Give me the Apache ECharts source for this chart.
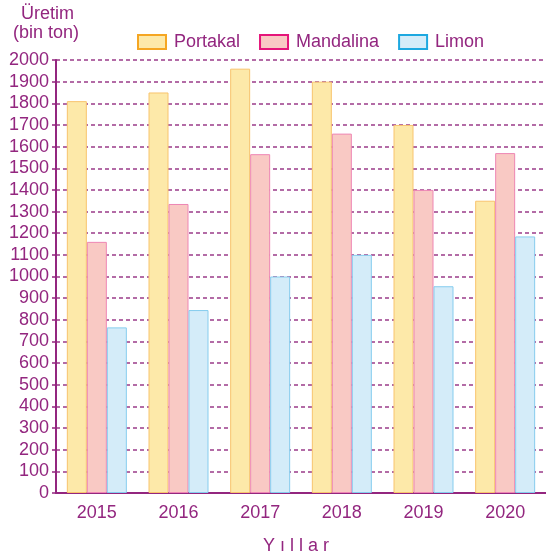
<!DOCTYPE html>
<html lang="tr">
<head>
    <meta charset="UTF-8">
    <title>Üretim</title>
    <script src="https://cdn.jsdelivr.net/npm/echarts@6/dist/echarts.min.js"></script>
    <style>
        html, body { margin: 0; padding: 0; background: #fff; }
        #main { width: 546px; height: 551px; }
    </style>
</head>
<body>
<div id="main"></div>
<script>
    // veriler (bin ton)
    var years = ['2015', '2016', '2017', '2018', '2019', '2020'];
    var portakal = [1810, 1850, 1960, 1900, 1700, 1350];
    var mandalina = [1160, 1335, 1565, 1660, 1400, 1570];
    var limon = [765, 845, 1000, 1100, 955, 1185];

    var purple = '#93267F';
    var font = 'Liberation Sans, Arial, sans-serif';

    var myChart = echarts.init(document.getElementById('main'));

    function bar(name, data, fill, edge) {
        return {
            name: name,
            type: 'bar',
            data: data,
            barWidth: 20,
            barGap: 0,
            itemStyle: { color: fill, borderColor: edge, borderWidth: 1 }
        };
    }

    var option = {
        animation: false,
        textStyle: { fontFamily: font },
        title: [
            { text: 'Üretim', left: 16, top: 0,
              textStyle: { fontSize: 18, fontWeight: 'normal', color: purple, fontFamily: font } },
            { text: '(bin ton)', left: 8, top: 19,
              textStyle: { fontSize: 18, fontWeight: 'normal', color: purple, fontFamily: font } },
            { text: 'Y ı l l a r', left: 258, top: 532,
              textStyle: { fontSize: 18, fontWeight: 'normal', color: purple, fontFamily: font } }
        ],
        legend: {
            left: 137,
            top: 33,
            padding: 0,
            icon: 'rect',
            itemWidth: 28,
            itemHeight: 14,
            itemGap: 19,
            textStyle: { fontSize: 18, color: purple, padding: [0, 0, 0, 3], fontFamily: font },
            data: [
                { name: 'Portakal', itemStyle: { borderColor: '#F5A623' } },
                { name: 'Mandalina', itemStyle: { borderColor: '#E5157A' } },
                { name: 'Limon', itemStyle: { borderColor: '#1DA8E0' } }
            ]
        },
        grid: { left: 56, top: 60, width: 498, bottom: 58 },
        xAxis: {
            type: 'category',
            data: years,
            axisLine: { lineStyle: { color: purple, width: 2 } },
            axisTick: { show: false },
            axisLabel: { fontSize: 18, color: purple, margin: 11, fontFamily: font }
        },
        yAxis: {
            type: 'value',
            min: 0,
            max: 2000,
            interval: 100,
            axisLine: { show: true, lineStyle: { color: purple, width: 2 } },
            axisTick: { show: true, length: 4, lineStyle: { color: purple, width: 1.5 } },
            axisLabel: {
                fontSize: 18, color: purple, margin: 7, fontFamily: font,
                formatter: function (v) { return String(v); }
            },
            splitLine: { lineStyle: { color: '#9B3B89', width: 1.5, type: [4, 3] } }
        },
        series: [
            bar('Portakal', portakal, '#FDE9A9', '#F8C46E'),
            bar('Mandalina', mandalina, '#F9C9C4', '#EE86B4'),
            bar('Limon', limon, '#D4ECF9', '#86CDEE')
        ]
    };

    myChart.setOption(option);
</script>
</body>
</html>
